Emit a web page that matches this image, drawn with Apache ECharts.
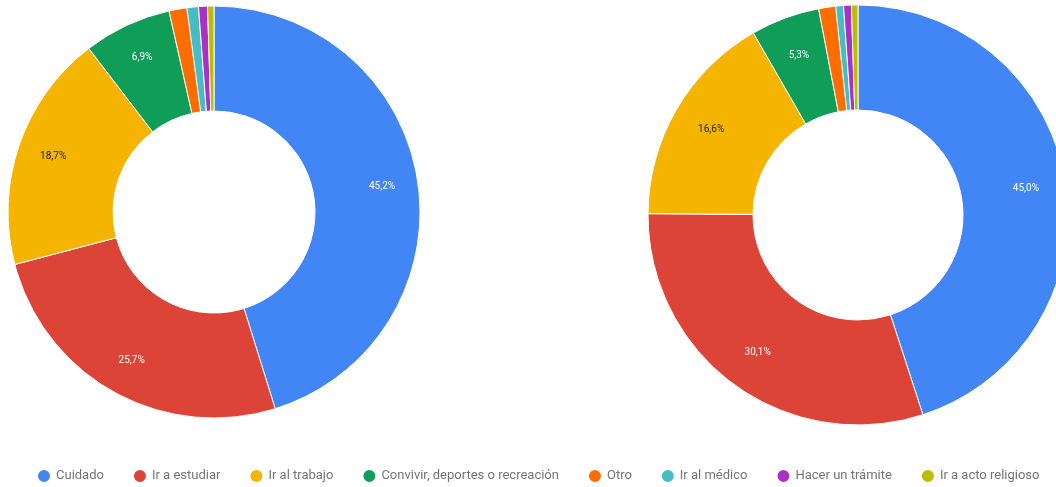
<!DOCTYPE html>
<html>
<head>
<meta charset="utf-8">
<script src="https://cdn.jsdelivr.net/npm/echarts@6/dist/echarts.min.js"></script>
<style>
  html, body { margin: 0; padding: 0; background: #fff; }
  #chart { width: 1056px; height: 487px; }
</style>
</head>
<body>
<div id="chart"></div>
<script>
// Motivos de viaje (porcentaje), dos grupos
const categories = [
  'Cuidado', 'Ir a estudiar', 'Ir al trabajo', 'Convivir, deportes o recreación',
  'Otro', 'Ir al médico', 'Hacer un trámite', 'Ir a acto religioso'
];
const valoresIzq = [45.2, 25.7, 18.7, 6.9, 1.4, 0.9, 0.7, 0.5];
const valoresDer = [45.0, 30.1, 16.6, 5.3, 1.3, 0.6, 0.6, 0.5];

const colors = ['#4285F4', '#DB4437', '#F4B400', '#0F9D58', '#FF6D01', '#46BDC6', '#AB30C4', '#BCBC00'];
const labelColors = ['#ffffff', '#ffffff', '#222222', '#ffffff', '#ffffff', '#ffffff', '#ffffff', '#ffffff'];

const fmt = v => v.toFixed(1).replace('.', ',') + '%';

function ring(values, center, radius) {
  return {
    type: 'pie',
    center: center,
    radius: radius,
    startAngle: 90,
    clockwise: true,
    avoidLabelOverlap: false,
    label: { show: false },
    labelLine: { show: false },
    emphasis: { scale: false },
    itemStyle: { borderColor: '#ffffff', borderWidth: 1 },
    data: values.map((v, i) => ({ name: categories[i], value: v, itemStyle: { color: colors[i] } }))
  };
}

// Anillo sin relleno que sólo lleva las etiquetas de porcentaje
function labelRing(values, center, radius) {
  return {
    type: 'pie',
    center: center,
    radius: radius,
    startAngle: 90,
    clockwise: true,
    silent: true,
    legendHoverLink: false,
    avoidLabelOverlap: false,
    labelLine: { show: false },
    itemStyle: { color: 'rgba(0,0,0,0)', borderWidth: 0 },
    data: values.map((v, i) => ({
      name: categories[i],
      value: v,
      label: {
        show: v >= 5,
        position: 'inside',
        formatter: () => fmt(v),
        color: labelColors[i],
        fontSize: 10,
        fontFamily: 'Roboto, Arial, sans-serif'
      }
    }))
  };
}

const chart = echarts.init(document.getElementById('chart'), null, { renderer: 'canvas' });
chart.setOption({
  animation: false,
  color: colors,
  legend: {
    top: 463,
    left: 31,
    icon: 'circle',
    itemWidth: 14,
    itemHeight: 14,
    itemGap: 28,
    textStyle: { color: '#757575', fontSize: 13, fontFamily: 'Roboto, Arial, sans-serif' },
    data: categories.map((c, i) => ({ name: c, itemStyle: { color: colors[i] } }))
  },
  series: [
    ring(valoresIzq, [214, 212], [101, 206]),
    ring(valoresDer, [858, 215], [105, 210]),
    labelRing(valoresIzq, [214, 212], [140, 194]),
    labelRing(valoresDer, [858, 215], [140, 194])
  ]
});
</script>
</body>
</html>
